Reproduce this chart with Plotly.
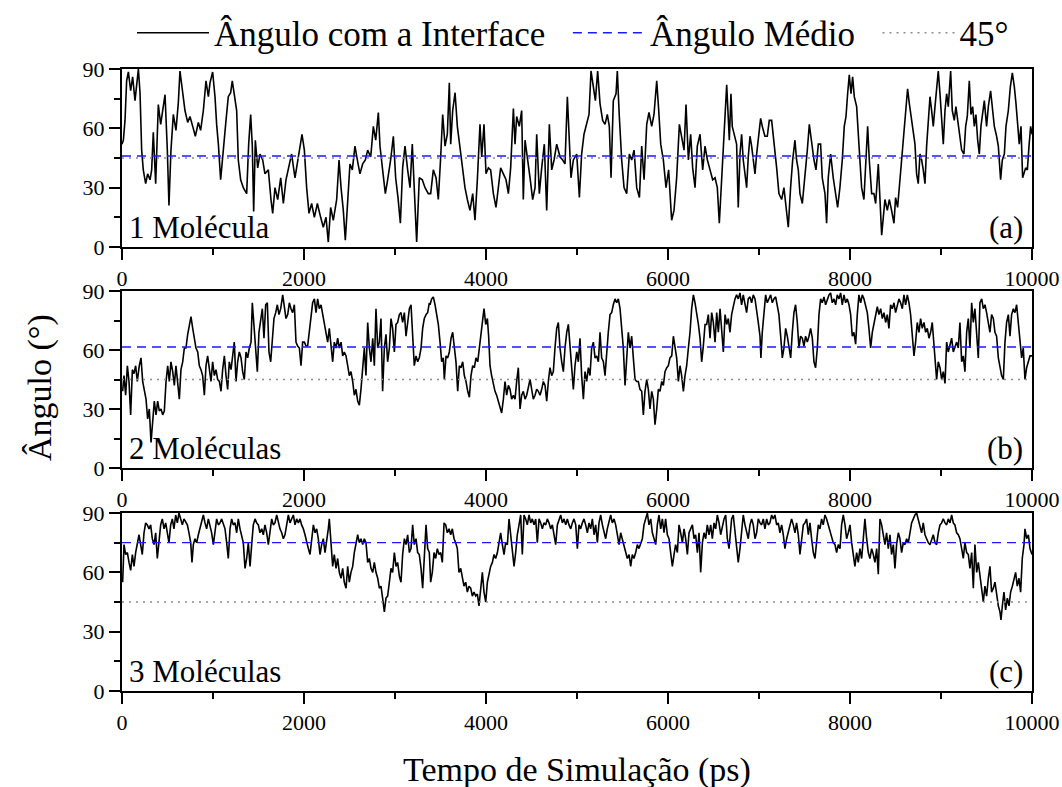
import plotly.graph_objects as go

FONT = "Liberation Serif"

# ---------------------------------------------------------------------------
# Angle of the molecule with the interface (degrees) versus simulation time (ps)
# ---------------------------------------------------------------------------

# (a) 1 molecule
time_a = (
    [0, 15, 33, 51, 70, 95, 117, 143, 180, 198, 216, 234, 260, 282, 308, 326, 344, 370, 399, 425,
     447, 473, 498, 516, 538, 564, 593, 619, 637, 663, 692, 722, 747, 777, 806, 839, 864, 894, 923, 949,
     967, 996, 1022, 1040, 1059, 1084, 1114, 1143, 1168, 1194, 1212, 1234, 1260, 1278, 1304, 1333, 1370, 1392, 1414, 1432,
     1447, 1465, 1491, 1516, 1546, 1571, 1608, 1637, 1656, 1681, 1711, 1744, 1773, 1802, 1835, 1864, 1901, 1930, 1956, 1978,
     2004, 2029, 2055, 2084, 2114, 2147, 2183, 2212, 2242, 2267, 2293, 2322, 2359, 2385, 2407, 2432, 2454, 2476, 2505, 2531,
     2560, 2586, 2615, 2645, 2674, 2700, 2733, 2762, 2788, 2817, 2835, 2864, 2894, 2919, 2952, 2982, 3007, 3033, 3059, 3084,
     3110, 3139, 3165, 3190, 3212, 3238, 3267, 3300, 3330, 3366]
    + [3392, 3421, 3451, 3476, 3502, 3524, 3550, 3575, 3597, 3612,
       3634, 3660, 3685, 3714, 3744, 3769, 3795, 3824, 3854, 3879,
       3905, 3934, 3953, 3978, 4000, 4026, 4051, 4081, 4110, 4136,
       4161, 4191, 4220, 4246, 4271, 4301, 4319, 4337, 4366, 4392,
       4410, 4429, 4454, 4484, 4513, 4539, 4557, 4586, 4612, 4641,
       4667, 4696, 4722, 4748, 4777, 4814, 4843, 4868, 4894, 4916,
       4934, 4960, 4997, 5026, 5051, 5077, 5106, 5132, 5154, 5180,
       5202, 5227, 5253, 5282, 5308, 5333, 5355, 5374, 5399, 5429,
       5443, 5465, 5491, 5517, 5546, 5575, 5601, 5627, 5656, 5686,
       5711, 5737, 5766, 5791, 5821, 5846, 5876, 5898, 5920, 5949,
       5978, 6007, 6040, 6066, 6095, 6125, 6150, 6176, 6198, 6224,
       6249, 6271, 6297, 6322, 6352, 6381, 6407, 6433, 6462, 6491,
       6517, 6542, 6564, 6590, 6616, 6645, 6674]
    + [6692, 6706, 6728, 6754, 6772, 6791, 6809, 6827, 6846, 6864,
       6882, 6901, 6919, 6937, 6956, 6974, 6992, 7018, 7036, 7065,
       7091, 7113, 7139, 7157, 7175, 7194, 7219, 7249, 7274, 7296,
       7322, 7347, 7370, 7395, 7413, 7432, 7450, 7476, 7505, 7531,
       7553, 7578, 7604, 7626, 7652, 7677, 7695, 7725, 7743, 7761,
       7787, 7816, 7842, 7864, 7889, 7915, 7937, 7956, 7974, 7992,
       8011, 8029, 8047, 8073, 8098, 8128, 8153, 8172, 8194, 8212,
       8238, 8263, 8282, 8311, 8329, 8348, 8366, 8384, 8410, 8432,
       8457, 8483, 8501, 8523, 8549, 8575, 8597, 8615, 8633, 8652,
       8670, 8695, 8714, 8732, 8750, 8769, 8787, 8805, 8824, 8842,
       8860, 8879, 8897, 8915, 8934, 8952, 8970, 8989, 9007, 9025,
       9044, 9062, 9080, 9106, 9124, 9146, 9164, 9183, 9208, 9227,
       9252, 9271, 9289, 9311, 9329, 9348, 9366, 9384, 9403, 9421,
       9439, 9458, 9476, 9501, 9520, 9545, 9564, 9586, 9611, 9630,
       9655, 9674, 9696, 9714, 9740, 9762, 9784, 9806, 9824, 9842,
       9860, 9879, 9897, 9930, 9949, 9967, 9985, 10000]
)
angle_a = (
    [52, 54, 64, 84, 88.5, 79, 86, 74, 90, 78, 49, 39, 32, 37, 34, 39, 58, 32, 72, 62,
     69, 77, 49, 21, 49, 67, 59, 73, 89, 78, 69, 63, 66, 61, 56, 63, 59, 69, 84, 76,
     83, 88.5, 76, 62, 52, 34, 51, 64, 76, 78, 84, 78, 69, 44, 34, 30, 27, 52, 67, 51,
     18, 54, 40, 47, 44, 37, 39, 24, 17, 30, 24, 35, 22, 34, 42, 47, 35, 44, 51, 57,
     49, 30, 17, 22, 15, 22, 15, 10, 15, 2.5, 20, 13.5, 24, 44, 30, 18.5, 3.4, 22, 42, 39,
     51, 44, 37, 42, 44, 49, 45.5, 61, 54, 68, 51, 39, 27, 34, 44, 56, 35, 25, 12, 40,
     51, 39, 30, 52, 30, 2.5, 35, 34, 30, 27]
    + [27, 39, 35, 24, 45.5, 67, 51, 57, 83, 52,
       69, 78, 61, 51, 40, 30, 24, 18.5, 27, 13.5,
       34, 62, 45.5, 62, 37, 40, 39, 27, 20, 30,
       40, 37, 34, 27, 40, 70, 52, 66, 61, 69,
       24, 54, 44, 35, 24, 30, 57, 27, 40, 52,
       18.5, 62, 39, 44, 52, 45.5, 44, 42, 76, 56,
       35, 44, 47, 25, 47, 57, 62, 67, 89, 81,
       74, 89, 72.5, 64, 62, 67, 61, 35, 74, 77.5,
       89, 66, 44, 30, 27, 47, 44, 49, 30, 25,
       51, 34, 62, 68, 61, 67, 84, 69, 52, 44,
       30, 39, 13.5, 18.5, 35, 62, 56, 49, 72, 44,
       57, 40, 30, 51, 57, 39, 51, 44, 39, 34,
       35, 30, 12, 37, 61, 82, 54]
    + [77.5, 61, 57, 52, 20, 47, 57, 44, 37, 30,
       45.5, 56, 51, 44, 37, 47, 54, 65, 61, 56,
       56, 64, 64, 57, 47, 40, 27, 24, 30, 20,
       10, 30, 44, 54, 44, 39, 27, 22, 35, 49,
       62, 52, 44, 39, 52, 52, 35, 27, 12, 35,
       47, 35, 27, 20, 30, 44, 61, 66, 77.5, 87,
       77.5, 86, 76, 71, 52, 30, 24, 44, 61, 44,
       27, 27, 22, 42, 27, 6, 15, 24, 18.5, 24,
       18.5, 12, 25, 20, 34, 49, 61, 71, 80, 72.5,
       67, 57, 52, 37, 32, 47, 44, 39, 32, 51,
       64, 76, 69, 61, 71, 82.6, 89, 77.5, 61, 52,
       69, 77.5, 71, 89, 69, 64, 71, 64, 57, 49,
       47, 61, 66, 84, 67, 71, 61, 67, 54, 47,
       61, 69, 74, 61, 71, 79, 69, 61, 56, 51,
       34, 44, 47, 61, 69, 81, 88, 81, 72.5, 64,
       52, 61, 35, 40, 39, 51, 61, 57]
)

# (b) 2 molecules
time_b = (
    [7, 22, 40, 59, 77, 95, 114, 132, 150, 168,
     190, 209, 227, 245, 264, 282, 300, 319, 333, 355,
     374, 392, 410, 429, 447, 465, 484, 502, 520, 538,
     557, 575, 593, 612, 630, 648, 667, 685, 703, 722,
     740, 758, 777, 795, 813, 832, 850, 868, 886, 905,
     923, 941, 960, 978, 996, 1015, 1033, 1051, 1070, 1088,
     1106, 1125, 1143, 1161, 1179, 1198, 1216, 1234, 1253, 1271,
     1289, 1308, 1326, 1344, 1363, 1381, 1399, 1418, 1432, 1451,
     1469, 1487, 1505, 1524, 1542, 1560, 1579, 1597, 1615, 1634,
     1652, 1670, 1689, 1707, 1725, 1744, 1766, 1784, 1802, 1821,
     1839, 1857, 1875, 1894, 1912, 1930, 1949, 1967, 1985, 2004,
     2022, 2040, 2059, 2077, 2095, 2114, 2132, 2150, 2168, 2187,
     2205, 2223, 2242, 2260, 2278, 2297, 2315, 2333, 2352, 2370,
     2388, 2407, 2425, 2443, 2462, 2480, 2498, 2516, 2535, 2553,
     2571, 2590, 2608, 2626, 2645, 2663, 2681, 2700, 2718, 2736,
     2755, 2773, 2791, 2810, 2828, 2846, 2864, 2883, 2901, 2919,
     2938, 2956, 2974, 2993, 3011, 3029, 3048, 3066, 3084, 3103,
     3121, 3139, 3158, 3176, 3194, 3212, 3231, 3249, 3267, 3286,
     3304, 3322, 3341, 3359, 3377]
    + [3385, 3403, 3421, 3440, 3458, 3476, 3495, 3513, 3531, 3542,
       3561, 3579, 3597, 3616, 3634, 3652, 3670, 3689, 3707, 3725,
       3744, 3762, 3780, 3799, 3817, 3835, 3854, 3872, 3890, 3909,
       3927, 3945, 3964, 3978, 3997, 4015, 4029, 4044, 4062, 4081,
       4099, 4117, 4136, 4154, 4172, 4191, 4209, 4227, 4246, 4264,
       4282, 4301, 4319, 4337, 4355, 4374, 4392, 4410, 4429, 4447,
       4465, 4484, 4502, 4520, 4539, 4557, 4575, 4594, 4612, 4630,
       4649, 4667, 4685, 4703, 4722, 4740, 4758, 4777, 4795, 4813,
       4832, 4850, 4868, 4887, 4905, 4923, 4942, 4960, 4978, 4997,
       5015, 5033, 5051, 5070, 5088, 5106, 5125, 5143, 5161, 5180,
       5198, 5216, 5235, 5253, 5271, 5290, 5308, 5326, 5344, 5363,
       5381, 5399, 5418, 5436, 5454, 5473, 5491, 5509, 5528, 5546,
       5564, 5583, 5601, 5619, 5638, 5656, 5674, 5692, 5711, 5729,
       5747, 5766, 5784, 5802, 5821, 5839, 5857, 5876, 5894, 5912,
       5931, 5949, 5967, 5986, 6004, 6022, 6041, 6059, 6077, 6095,
       6114, 6132, 6150, 6169, 6187, 6205, 6224, 6242, 6260, 6279,
       6297, 6315, 6334, 6352, 6370, 6388, 6407, 6425, 6443, 6462,
       6480, 6498, 6517, 6535, 6553, 6572, 6590, 6608, 6627, 6645,
       6663, 6681]
    + [6699, 6717, 6736, 6754, 6772, 6791, 6809, 6827, 6846, 6864,
       6882, 6901, 6919, 6937, 6956, 6974, 6992, 7011, 7021, 7036,
       7054, 7073, 7091, 7109, 7128, 7146, 7164, 7183, 7201, 7219,
       7238, 7256, 7274, 7293, 7311, 7329, 7348, 7366, 7384, 7402,
       7421, 7439, 7457, 7476, 7494, 7512, 7531, 7549, 7567, 7586,
       7604, 7622, 7641, 7659, 7677, 7695, 7714, 7732, 7750, 7769,
       7787, 7805, 7824, 7842, 7860, 7879, 7897, 7915, 7934, 7952,
       7970, 7989, 8007, 8025, 8043, 8062, 8080, 8098, 8117, 8135,
       8153, 8172, 8190, 8208, 8227, 8245, 8263, 8282, 8300, 8318,
       8337, 8355, 8373, 8392, 8410, 8428, 8446, 8465, 8483, 8501,
       8520, 8538, 8556, 8575, 8593, 8611, 8630, 8648, 8666, 8685,
       8703, 8721, 8739, 8758, 8776, 8794, 8813, 8831, 8849, 8868,
       8886, 8904, 8923, 8941, 8952, 8970, 8989, 9007, 9025, 9044,
       9062, 9080, 9099, 9117, 9135, 9153, 9172, 9190, 9208, 9227,
       9245, 9263, 9282, 9300, 9318, 9337, 9355, 9373, 9392, 9410,
       9428, 9447, 9465, 9483, 9501, 9520, 9538, 9556, 9575, 9593,
       9611, 9630, 9648, 9666, 9685, 9703, 9721, 9740, 9758, 9776,
       9795, 9813, 9831, 9850, 9868, 9886, 9904, 9923, 9941, 9960,
       9978, 10000]
)
angle_b = (
    [39, 47, 37, 52, 44, 27, 50, 48, 52, 44,
     52, 56, 44, 40, 35, 25, 30, 13, 22, 34,
     27, 34, 29, 30, 27, 29, 44, 52, 44, 54,
     49, 42, 52, 44, 35, 50, 54, 61, 61, 68,
     72, 77, 71, 66, 61, 59, 52, 50, 47, 37,
     52, 57, 49, 44, 54, 47, 50, 45, 44, 39,
     50, 57, 47, 40, 54, 50, 57, 64, 44, 54,
     59, 56, 49, 45, 59, 56, 61, 64, 84, 73,
     64, 49, 69, 76, 81, 66, 83, 84, 59, 54,
     68, 76, 79, 83, 78, 81, 88, 81, 76, 78,
     84, 81, 79, 83, 64, 62, 61, 52, 64, 64,
     62, 62, 69, 78, 84, 86, 79, 86, 81, 83,
     78, 73, 69, 64, 71, 61, 54, 64, 61, 66,
     61, 64, 57, 59, 57, 52, 47, 49, 44, 37,
     40, 34, 32, 40, 50, 61, 47, 74, 61, 54,
     66, 52, 81, 61, 64, 76, 39, 61, 68, 54,
     61, 76, 71, 59, 73, 74, 78, 79, 74, 79,
     67, 73, 81, 83, 64, 52, 57, 54, 56, 61,
     71, 76, 78, 79, 84]
    + [83, 86, 87, 83, 78, 73, 64, 54, 56, 45,
       57, 56, 59, 66, 69, 61, 54, 39, 52, 51,
       54, 47, 44, 39, 36, 47, 52, 51, 56, 54,
       61, 66, 74, 81, 73, 76, 67, 52, 47, 42,
       39, 37, 34, 30, 28, 35, 44, 37, 42, 40,
       35, 37, 35, 44, 51, 30, 37, 39, 35, 37,
       42, 45, 40, 35, 37, 40, 39, 37, 40, 44,
       42, 34, 44, 51, 47, 49, 61, 71, 74, 61,
       54, 49, 61, 69, 73, 61, 49, 40, 52, 59,
       54, 66, 47, 35, 49, 44, 51, 47, 61, 64,
       56, 57, 54, 69, 56, 54, 47, 59, 69, 78,
       79, 83, 86, 84, 86, 81, 69, 61, 42, 56,
       69, 61, 67, 56, 45, 44, 44, 40, 39, 27,
       39, 45, 40, 30, 39, 35, 22, 30, 40, 39,
       44, 42, 49, 51, 52, 56, 57, 67, 62, 56,
       44, 52, 47, 39, 47, 52, 61, 69, 81, 88,
       84, 79, 73, 66, 54, 62, 73, 73, 78, 66,
       79, 74, 64, 79, 69, 81, 69, 59, 78, 73,
       76, 69]
    + [78, 83, 86, 88, 86, 89, 83, 88, 84, 79,
       86, 87, 84, 88, 86, 81, 74, 67, 56, 69,
       79, 88, 84, 86, 88, 84, 86, 87, 83, 78,
       67, 56, 61, 71, 67, 61, 56, 69, 79, 83,
       74, 61, 67, 66, 62, 67, 64, 67, 71, 66,
       54, 51, 61, 78, 86, 84, 87, 83, 86, 88,
       89, 84, 86, 83, 88, 86, 89, 83, 88, 84,
       86, 83, 78, 67, 69, 63, 78, 88, 84, 88,
       86, 83, 79, 71, 61, 69, 74, 79, 82, 78,
       81, 76, 79, 74, 78, 71, 83, 81, 84, 79,
       83, 86, 84, 81, 88, 83, 88, 84, 78, 69,
       57, 64, 74, 69, 76, 71, 74, 69, 71, 66,
       69, 74, 64, 54, 45, 54, 51, 45, 49, 43,
       64, 59, 62, 66, 59, 61, 64, 61, 74, 54,
       57, 49, 69, 76, 61, 84, 74, 81, 67, 56,
       84, 86, 81, 83, 79, 74, 69, 78, 76, 69,
       67, 56, 51, 47, 45, 64, 74, 78, 67, 78,
       81, 79, 83, 74, 64, 56, 61, 45, 51, 54,
       57, 57]
)

# (c) 3 molecules
time_c = (
    [7, 22, 40, 59, 77, 95, 114, 132, 150, 168,
     187, 205, 223, 242, 260, 278, 297, 315, 333, 352,
     370, 388, 407, 425, 443, 462, 480, 498, 516, 535,
     553, 571, 590, 608, 626, 645, 663, 681, 700, 718,
     736, 755, 769, 784, 802, 821, 839, 857, 875, 894,
     912, 930, 949, 967, 985, 1004, 1022, 1040, 1059, 1077,
     1095, 1114, 1132, 1150, 1168, 1187, 1205, 1223, 1242, 1260,
     1278, 1297, 1315, 1333, 1352, 1370, 1388, 1407, 1425, 1443,
     1462, 1480, 1498, 1516, 1535, 1553, 1571, 1590, 1608, 1626,
     1645, 1663, 1681, 1700, 1718, 1736, 1755, 1773, 1791, 1810,
     1828, 1846, 1864, 1883, 1901, 1919, 1938, 1956, 1974, 1993,
     2011, 2029, 2048, 2066, 2084, 2103, 2121, 2139, 2157, 2176,
     2194, 2212, 2231, 2249, 2267, 2278, 2297, 2315, 2333, 2352,
     2370, 2388, 2407, 2425, 2443, 2462, 2480, 2498, 2516, 2535,
     2553, 2571, 2590, 2608, 2626, 2645, 2663, 2681, 2700, 2718,
     2736, 2755, 2773, 2791, 2810, 2828, 2846, 2864, 2883, 2901,
     2919, 2938, 2956, 2974, 2993, 3011, 3029, 3048, 3066, 3084,
     3103, 3121, 3139, 3158, 3176, 3194, 3212, 3231, 3249, 3267,
     3286, 3304, 3322, 3341, 3359, 3377]
    + [3392, 3410, 3429, 3447, 3465, 3484, 3502, 3520, 3539, 3557,
       3575, 3594, 3612, 3630, 3649, 3667, 3685, 3703, 3722, 3740,
       3758, 3777, 3795, 3813, 3832, 3850, 3868, 3887, 3905, 3923,
       3942, 3960, 3978, 3997, 4015, 4033, 4051, 4070, 4088, 4106,
       4125, 4143, 4161, 4180, 4198, 4216, 4235, 4253, 4271, 4290,
       4308, 4326, 4344, 4363, 4381, 4399, 4418, 4436, 4454, 4473,
       4491, 4509, 4528, 4546, 4564, 4583, 4601, 4619, 4637, 4656,
       4674, 4692, 4711, 4729, 4747, 4766, 4784, 4802, 4821, 4839,
       4857, 4876, 4894, 4912, 4931, 4949, 4967, 4986, 5004, 5022,
       5040, 5059, 5077, 5095, 5114, 5132, 5150, 5169, 5187, 5205,
       5224, 5242, 5260, 5279, 5297, 5315, 5333, 5352, 5370, 5388,
       5407, 5425, 5443, 5462, 5480, 5498, 5517, 5535, 5553, 5572,
       5590, 5608, 5626, 5645, 5663, 5681, 5700, 5718, 5736, 5755,
       5773, 5791, 5810, 5828, 5846, 5865, 5883, 5901, 5920, 5938,
       5956, 5974, 5993, 6011, 6029, 6048, 6066, 6084, 6103, 6121,
       6139, 6158, 6176, 6194, 6213, 6231, 6249, 6268, 6286, 6304,
       6323, 6341, 6359, 6378, 6396, 6414, 6432, 6451, 6469, 6487,
       6506, 6524, 6542, 6561, 6579, 6597, 6616, 6634, 6652, 6671]
    + [6699, 6717, 6736, 6754, 6772, 6791, 6809, 6827, 6846, 6864,
       6882, 6901, 6919, 6937, 6956, 6974, 6992, 7011, 7029, 7047,
       7065, 7084, 7102, 7120, 7139, 7157, 7175, 7194, 7212, 7230,
       7249, 7267, 7285, 7304, 7322, 7340, 7358, 7377, 7395, 7413,
       7432, 7450, 7468, 7487, 7505, 7523, 7542, 7560, 7578, 7597,
       7615, 7633, 7652, 7670, 7688, 7706, 7725, 7743, 7761, 7780,
       7798, 7816, 7835, 7853, 7871, 7890, 7908, 7926, 7945, 7963,
       7981, 8000, 8018, 8036, 8054, 8073, 8091, 8109, 8128, 8146,
       8164, 8183, 8201, 8219, 8238, 8256, 8274, 8293, 8311, 8329,
       8348, 8366, 8384, 8402, 8421, 8439, 8457, 8476, 8494, 8512,
       8531, 8549, 8567, 8586, 8604, 8622, 8641, 8659, 8677, 8696,
       8714, 8732, 8750, 8769, 8787, 8805, 8824, 8842, 8860, 8879,
       8897, 8915, 8934, 8952, 8970, 8989, 9007, 9025, 9044, 9062,
       9080, 9099, 9117, 9135, 9153, 9172, 9190, 9208, 9227, 9245,
       9263, 9282, 9300, 9318, 9337, 9355, 9373, 9392, 9410, 9428,
       9447, 9465, 9483, 9501, 9520, 9538, 9556, 9575, 9593, 9611,
       9630, 9648, 9659, 9674, 9692, 9710, 9729, 9747, 9765, 9784,
       9802, 9820, 9838, 9857, 9875, 9893, 9912, 9923, 9941, 9960,
       9978, 10000]
)
angle_c = (
    [55, 74, 69, 70, 65, 61, 69, 63, 70, 75,
     79, 74, 69, 80, 85, 84, 82, 84, 77, 74,
     80, 67, 77, 84, 87, 82, 85, 80, 75, 84,
     87, 82, 89, 85, 90, 87, 84, 87, 85, 84,
     80, 75, 65, 74, 77, 75, 79, 82, 85, 89,
     85, 82, 87, 84, 80, 74, 80, 87, 84, 85,
     87, 84, 82, 75, 67, 82, 87, 84, 85, 80,
     87, 82, 79, 75, 62, 67, 75, 63, 74, 84,
     87, 85, 84, 80, 82, 79, 84, 80, 74, 82,
     87, 84, 85, 89, 85, 82, 80, 77, 79, 84,
     89, 85, 87, 89, 84, 87, 85, 87, 84, 82,
     79, 75, 72, 69, 77, 84, 80, 82, 77, 69,
     74, 77, 70, 75, 82, 87, 72, 63, 69, 62,
     67, 60, 57, 62, 55, 52, 63, 55, 60, 63,
     70, 75, 79, 75, 77, 74, 77, 75, 65, 67,
     62, 60, 65, 60, 57, 52, 53, 47, 40, 47,
     48, 55, 62, 60, 70, 63, 65, 58, 55, 69,
     77, 74, 79, 70, 72, 84, 74, 77, 70, 69,
     62, 52, 69, 84, 72, 70]
    + [55, 60, 70, 67, 72, 69, 70, 65, 85, 84,
       80, 82, 79, 82, 77, 75, 72, 60, 62, 57,
       53, 55, 50, 53, 52, 48, 50, 48, 49, 43,
       53, 60, 50, 45, 55, 60, 63, 65, 69, 67,
       70, 75, 80, 74, 69, 75, 74, 87, 80, 72,
       63, 70, 79, 84, 89, 69, 89, 87, 84, 89,
       85, 87, 84, 87, 75, 87, 85, 82, 85, 84,
       87, 85, 82, 84, 80, 74, 84, 87, 89, 85,
       87, 84, 87, 84, 82, 85, 87, 84, 72, 84,
       82, 85, 87, 84, 80, 85, 82, 87, 79, 84,
       75, 85, 89, 84, 80, 77, 82, 85, 89, 85,
       87, 84, 80, 74, 80, 77, 74, 70, 67, 69,
       63, 69, 67, 70, 74, 72, 75, 77, 84, 87,
       90, 84, 87, 80, 77, 74, 84, 89, 82, 87,
       80, 87, 79, 77, 70, 63, 69, 74, 70, 84,
       80, 75, 82, 77, 69, 80, 82, 84, 77, 79,
       70, 80, 60, 75, 80, 77, 84, 79, 84, 77,
       85, 82, 89, 85, 79, 84, 87, 89, 77, 72]
    + [87, 89, 80, 74, 65, 72, 80, 89, 84, 80,
       77, 84, 87, 84, 77, 80, 87, 85, 84, 87,
       82, 87, 84, 85, 89, 87, 89, 84, 85, 80,
       84, 79, 72, 77, 80, 84, 87, 84, 80, 85,
       79, 69, 77, 84, 85, 87, 79, 85, 77, 70,
       67, 74, 84, 82, 87, 84, 89, 87, 84, 82,
       79, 75, 74, 70, 74, 72, 84, 89, 84, 77,
       80, 84, 75, 69, 63, 70, 65, 72, 67, 77,
       87, 77, 70, 67, 72, 69, 65, 72, 59, 87,
       84, 79, 74, 80, 72, 79, 69, 74, 62, 74,
       80, 77, 70, 75, 74, 77, 75, 80, 85, 87,
       89, 90, 87, 84, 80, 85, 79, 77, 75, 74,
       77, 79, 75, 74, 80, 84, 85, 87, 85, 84,
       87, 85, 89, 85, 84, 80, 79, 77, 72, 67,
       75, 70, 69, 62, 70, 52, 74, 60, 65, 58,
       52, 45, 53, 48, 57, 63, 50, 52, 55, 48,
       43, 40, 36, 43, 50, 41, 47, 43, 50, 53,
       57, 60, 53, 57, 50, 67, 74, 82, 77, 79,
       72, 69]
)

mean_angles = [46.0, 61.5, 75.0]
reference_angle = 45
time_range = [0, 10000]
panel_names = ["1 Molécula", "2 Moléculas", "3 Moléculas"]
panel_tags = ["(a)", "(b)", "(c)"]
series_names = ["Ângulo com a Interface", "Ângulo Médio", "45°"]
x_tickvals = [0, 2000, 4000, 6000, 8000, 10000]
x_ticktext = ["0", "2000", "4000", "6000", "8000", "10000"]
y_tickvals = [0, 30, 60, 90]

# ---------------------------------------------------------------------------
fig = go.Figure()

x_domain = [122 / 1062, 1032 / 1062]
y_domains = [
    [1 - 247 / 787, 1 - 69 / 787],
    [1 - 468 / 787, 1 - 291 / 787],
    [1 - 691 / 787, 1 - 513 / 787],
]

series = [(time_a, angle_a), (time_b, angle_b), (time_c, angle_c)]
# non-breaking spaces widen the gap between horizontal legend entries
legend_pad = "\u00a0\u00a0"

for i, ((t, ang), mean) in enumerate(zip(series, mean_angles)):
    n = "" if i == 0 else str(i + 1)
    xa, ya = "x" + n, "y" + n
    first = i == 0
    fig.add_trace(go.Scatter(
        x=t, y=ang, mode="lines", xaxis=xa, yaxis=ya,
        line=dict(color="black", width=1.6),
        name=series_names[0] + legend_pad, legendgroup="serie", showlegend=first,
    ))
    fig.add_trace(go.Scatter(
        x=time_range, y=[mean, mean], mode="lines", xaxis=xa, yaxis=ya,
        line=dict(color="#1a1aff", width=1.4, dash="9px,6px"),
        name=series_names[1] + legend_pad, legendgroup="media", showlegend=first,
    ))
    fig.add_trace(go.Scatter(
        x=time_range, y=[reference_angle, reference_angle], mode="lines",
        xaxis=xa, yaxis=ya,
        line=dict(color="#8c8c8c", width=1.6, dash="2px,5px"),
        name=series_names[2], legendgroup="ref", showlegend=first,
    ))

axis_common = dict(
    showline=True, linecolor="black", linewidth=2, mirror=True,
    ticks="outside", tickcolor="black", tickwidth=1.5, ticklen=11,
    showgrid=False, zeroline=False, automargin=False,
    tickfont=dict(family=FONT, size=22, color="black"),
)

layout_axes = {}
for i in range(3):
    n = "" if i == 0 else str(i + 1)
    layout_axes["xaxis" + n] = dict(
        axis_common, domain=x_domain, anchor="y" + n, range=time_range,
        tickvals=x_tickvals, ticktext=x_ticktext,
        minor=dict(dtick=1000, tick0=0, ticks="outside", ticklen=6,
                   tickwidth=1.5, tickcolor="black"),
    )
    layout_axes["yaxis" + n] = dict(
        axis_common, domain=y_domains[i], anchor="x" + n, range=[0, 90],
        tickvals=y_tickvals,
        minor=dict(tickvals=[15, 45, 75], ticks="outside", ticklen=6,
                   tickwidth=1.5, tickcolor="black"),
    )

annotations = []
for i in range(3):
    n = "" if i == 0 else str(i + 1)
    annotations.append(dict(
        text=panel_names[i], xref="x" + n + " domain", yref="y" + n + " domain",
        x=0.006, y=0.0, xanchor="left", yanchor="bottom", showarrow=False,
        font=dict(family=FONT, size=31, color="black"),
    ))
    annotations.append(dict(
        text=panel_tags[i], xref="x" + n + " domain", yref="y" + n + " domain",
        x=0.992, y=0.0, xanchor="right", yanchor="bottom", showarrow=False,
        font=dict(family=FONT, size=31, color="black"),
    ))

annotations.append(dict(
    text="Tempo de Simulação (ps)", xref="paper", yref="paper",
    x=577 / 1062, y=1 - 770 / 787, xanchor="center", yanchor="middle",
    showarrow=False, font=dict(family=FONT, size=34, color="black"),
))
annotations.append(dict(
    text="Ângulo (°)", xref="paper", yref="paper", textangle=-90,
    x=40 / 1062, y=1 - 388 / 787, xanchor="center", yanchor="middle",
    showarrow=False, font=dict(family=FONT, size=34, color="black"),
))

fig.update_layout(
    width=1062, height=787,
    margin=dict(l=0, r=0, t=0, b=0),
    paper_bgcolor="white", plot_bgcolor="white",
    font=dict(family=FONT, color="black"),
    showlegend=True,
    legend=dict(
        orientation="h", x=132 / 1062, y=1 - 33 / 787,
        xanchor="left", yanchor="middle",
        font=dict(family=FONT, size=35, color="black"),
        itemwidth=72, bgcolor="rgba(0,0,0,0)", borderwidth=0,
        tracegroupgap=0,
    ),
    annotations=annotations,
    **layout_axes,
)

fig.write_html("out.html")
